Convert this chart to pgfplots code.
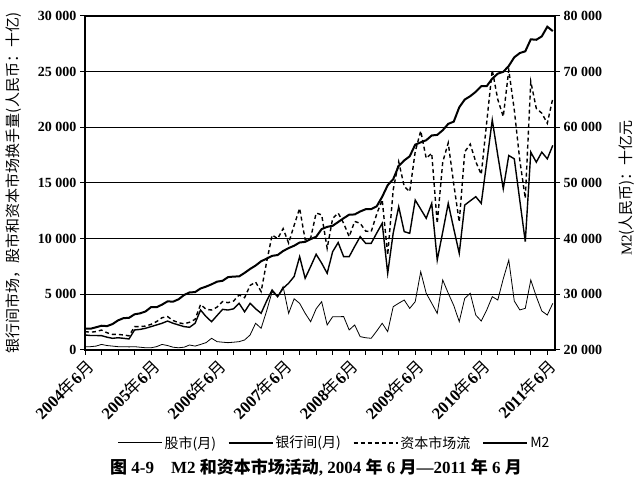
\documentclass[border=0pt]{standalone}
\usepackage{fontspec}
\setmainfont{Liberation Serif}
\newfontfamily\cjk{Noto Sans CJK SC}
\usepackage{pgfplots}
\pgfplotsset{compat=1.18}
\usepackage{pgfplotstable}

\pgfplotstableread{
m S I D M
0 300 1350 1650 23840
1 300 1300 1600 23820
2 350 1300 1650 24080
3 500 1290 1790 24360
4 400 1150 1550 24290
5 350 1050 1400 24660
6 300 1100 1400 25320
7 300 1050 1350 25720
8 280 990 1270 25780
9 300 1800 2100 26410
10 250 1850 2100 26580
11 200 1950 2150 26920
12 200 2100 2300 27700
13 300 2250 2550 27680
14 500 2400 2900 28150
15 400 2600 3000 28740
16 250 2400 2650 28680
17 200 2250 2450 29110
18 250 2100 2350 29880
19 450 2040 2490 30340
20 350 2400 2750 30400
21 500 3590 4090 31050
22 660 3000 3660 31390
23 1050 2540 3590 31800
24 750 3100 3850 32280
25 700 3650 4350 32430
26 660 3590 4250 33090
27 700 3700 4400 33190
28 750 4190 4940 33220
29 900 3430 4700 33850
30 1350 4190 5800 34560
31 2400 3700 6100 35170
32 1950 3300 5250 35940
33 3500 4400 7900 36410
34 5240 5390 10330 36910
35 4790 4790 10000 37060
36 5690 5540 10900 37780
37 3290 6000 9600 38310
38 4600 6600 11200 38730
39 4190 8380 12730 39310
40 3300 6440 9900 39420
41 2540 7500 10040 39920
42 3700 8600 12300 40340
43 4340 7800 12140 41720
44 2250 6890 9140 42120
45 2990 8830 11820 42310
46 2990 9650 12300 42990
47 3000 8380 11380 43670
48 1800 8380 10180 44310
49 2250 9300 11550 44350
50 1200 10180 11380 44880
51 1100 9580 10680 45290
52 1050 9580 10630 45300
53 1700 10500 12200 45810
54 2400 11380 13500 47520
55 1650 6890 8540 49610
56 3890 10500 14390 50680
57 4200 12870 16910 53060
58 4490 10630 14700 54050
59 3740 10480 14220 54800
60 4340 13470 17810 56890
61 7030 12650 19680 57300
62 5090 11830 17220 57680
63 4200 13170 17670 58540
64 3290 8080 11370 58640
65 6290 10600 16890 59480
66 5100 13170 18600 60620
67 4000 10900 14900 61020
68 2550 8680 11500 63600
69 4640 13020 17800 64990
70 5090 13400 18490 65600
71 3140 13770 16910 66380
72 2600 13170 15770 67390
73 3600 16900 20500 67410
74 4790 20660 25150 68750
75 4490 17500 22500 69640
76 6400 14480 20960 69970
77 8080 17470 25150 71030
78 4400 17170 21570 72580
79 3600 13450 17050 73340
80 3740 9730 13630 73660
81 6290 17770 24100 75810
82 4800 16870 21700 75730
83 3500 17770 21270 76340
84 3140 17170 20360 78080
85 4190 18380 22600 77290
}\datatable

\begin{document}
\begin{tikzpicture}[x=1pt,y=1pt]
\begin{axis}[
  at={(85pt,144pt)}, anchor=south west,
  scale only axis, width=470pt, height=334pt,
  xmin=0, xmax=85.4, ymin=0, ymax=30000,
  xtick={0,12,...,84},
  xticklabels={2004{\cjk\mdseries 年}6{\cjk\mdseries 月},2005{\cjk\mdseries 年}6{\cjk\mdseries 月},2006{\cjk\mdseries 年}6{\cjk\mdseries 月},2007{\cjk\mdseries 年}6{\cjk\mdseries 月},2008{\cjk\mdseries 年}6{\cjk\mdseries 月},2009{\cjk\mdseries 年}6{\cjk\mdseries 月},2010{\cjk\mdseries 年}6{\cjk\mdseries 月},2011{\cjk\mdseries 年}6{\cjk\mdseries 月}},
  minor xtick={3,6,...,84},
  ytick={0,5000,...,30000},
  xtick pos=bottom, ytick pos=left,
  tick align=outside,
  major tick length=5pt, minor tick length=5pt,
  tick style={black, line width=1pt},
  ymajorgrids, grid style={black, line width=1pt},
  axis line style={line width=1.6pt},
  scaled y ticks=false,
  yticklabel style={/pgf/number format/.cd, 1000 sep={\ }, assume math mode=true},
  ticklabel style={font=\bfseries\fontsize{14}{16}\selectfont},
  xticklabel style={rotate=45, anchor=north east, inner sep=2pt, font=\bfseries\fontsize{16.5}{18}\selectfont},
  ylabel={\cjk 银行间市场，股市和资本市场换手量(人民币：十亿)},
  ylabel style={at={(axis description cs:-0.151,0.5)}, anchor=center, font=\fontsize{15}{17}\selectfont},
  legend columns=4,
  legend style={at={(axis description cs:0.531,-0.278)}, anchor=center, draw=none, fill=none,
    font=\cjk\fontsize{14}{16}\selectfont,
    /tikz/every even column/.append style={column sep=10pt}},
  legend image code/.code={\draw[#1] (0pt,0pt) -- (44pt,0pt);},
]
\addplot[black, line width=0.8pt] table[x=m, y=S] {\datatable};
\addlegendentry{股市(月)}
\addplot[black, line width=1.4pt] table[x=m, y=I] {\datatable};
\addlegendentry{银行间(月)}
\addplot[black, line width=1.4pt, dash pattern=on 4pt off 3pt] table[x=m, y=D] {\datatable};
\addlegendentry{资本市场流}
\addlegendimage{black, line width=2pt}
\addlegendentry{M2}
\end{axis}
\begin{axis}[
  at={(85pt,144pt)}, anchor=south west,
  scale only axis, width=470pt, height=334pt,
  xmin=0, xmax=85.4, ymin=20000, ymax=80000,
  axis x line=none, axis y line*=right,
  ytick={20000,30000,...,80000},
  tick align=outside, major tick length=5pt,
  tick style={black, line width=1pt},
  axis line style={line width=1.6pt},
  scaled y ticks=false,
  yticklabel style={/pgf/number format/.cd, 1000 sep={\ }, assume math mode=true},
  ticklabel style={font=\bfseries\fontsize{14}{16}\selectfont},
  ylabel={M2{\cjk (人民币)：十亿元}},
  ylabel style={at={(axis description cs:1.153,0.485)}, anchor=center, rotate=0, font=\fontsize{15}{17}\selectfont},
]
\addplot[black, line width=2pt] table[x=m, y=M] {\datatable};
\end{axis}
\node[font=\bfseries\fontsize{17}{19}\selectfont] at (316,27)
  {{\cjk 图} 4-9\quad M2 {\cjk 和资本市场活动}, 2004 {\cjk 年} 6 {\cjk 月}—2011 {\cjk 年} 6 {\cjk 月}};
\pgfresetboundingbox
\useasboundingbox (0,0) rectangle (642,494);
\end{tikzpicture}
\end{document}
